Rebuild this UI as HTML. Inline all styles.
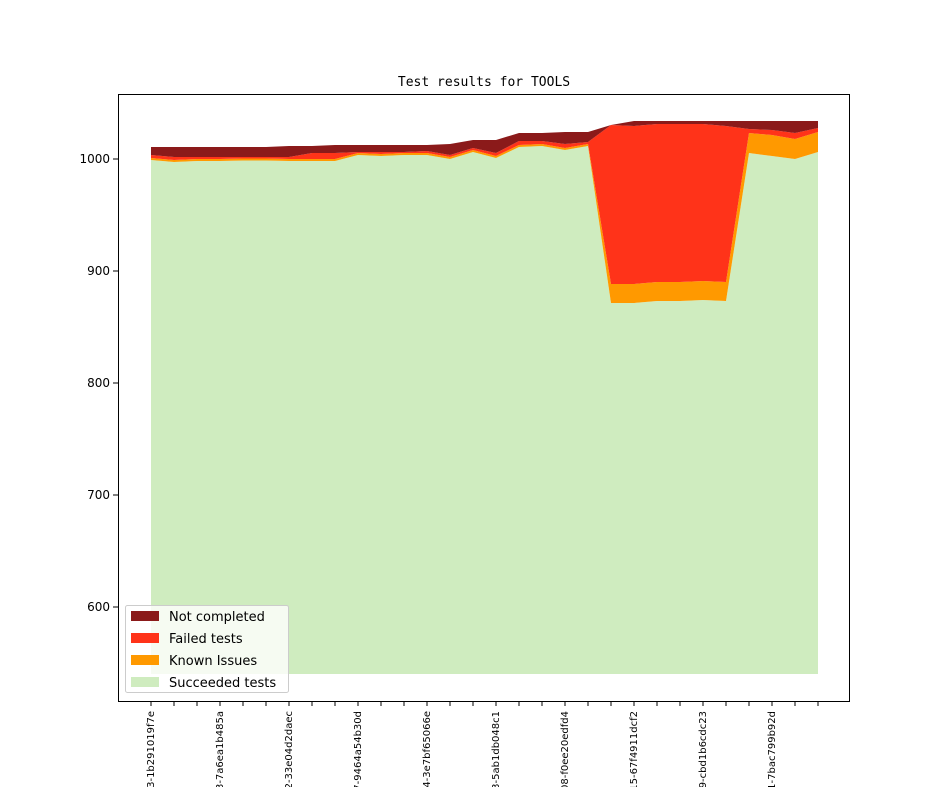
<!DOCTYPE html><html><head><style>html,body{margin:0;background:#fff;width:944px;height:787px;overflow:hidden}svg{display:block;font-family:"DejaVu Sans","Liberation Sans",sans-serif;overflow:hidden}</style></head><body>
<svg width="944" height="787" xmlns="http://www.w3.org/2000/svg">
<defs><clipPath id="c"><rect width="944" height="787"/></clipPath></defs>
<rect width="944" height="787" fill="#fff"/>
<text x="484" y="86" text-anchor="middle" font-family="DejaVu Sans Mono,Liberation Mono,monospace" font-size="13">Test results for TOOLS</text>
<g id="areas"></g>
<rect x="118.5" y="94.5" width="731" height="607" fill="none" stroke="#000"/>
<g font-size="12" text-anchor="end">
<line x1="113" x2="118" y1="159" y2="159" stroke="#000"/><text x="110" y="163">1000</text>
<line x1="113" x2="118" y1="271" y2="271" stroke="#000"/><text x="110" y="275">900</text>
<line x1="113" x2="118" y1="383" y2="383" stroke="#000"/><text x="110" y="387">800</text>
<line x1="113" x2="118" y1="495" y2="495" stroke="#000"/><text x="110" y="499">700</text>
<line x1="113" x2="118" y1="607" y2="607" stroke="#000"/><text x="110" y="611">600</text>
</g>
<g id="xt" font-size="10" clip-path="url(#c)"></g>
<g>
<rect x="125.5" y="605.5" width="163" height="87" fill="#fff" fill-opacity="0.8" stroke="#ccc" rx="2"/>
<rect x="131" y="611" width="28" height="10" fill="#8b1a1a"/><text x="169" y="621" font-size="13">Not completed</text>
<rect x="131" y="633" width="28" height="10" fill="#ff3319"/><text x="169" y="643" font-size="13">Failed tests</text>
<rect x="131" y="655" width="28" height="10" fill="#ff9900"/><text x="169" y="665" font-size="13">Known Issues</text>
<rect x="131" y="677" width="28" height="10" fill="#cfecbf"/><text x="169" y="687" font-size="13">Succeeded tests</text>
</g>
</svg>
<script>
var g=[160,162,161,161,160.5,160.5,161,161,161,155,156,155,155,159,152,158,147,146,150,146,303,303,301,301,300,301,153,156,159,152];
var o=[158,160,159,159,158.5,158.5,159,159,159,153,154,153,153,157,150,156,145,144,148,144,284,284,282,282,281,282,133,135,139,132];
var r=[155,157,157,157,157,157,157,153,153,152,152,152,151,155,148,153,141,141,144,142,125,126,124,124,124,126,129,130,133,128];
var d=[147,147,147,147,147,147,146,146,145,145,145,145,145,144,140,140,133,133,132,132,125,121,121,121,121,121,121,121,121,121];
var X=function(i){return 151+23*i};
function poly(top,bot,c){var p=[];for(var i=0;i<30;i++)p.push(X(i)+','+top[i]);for(var i=29;i>=0;i--)p.push(X(i)+','+(bot?bot[i]:674));return '<polygon points="'+p.join(' ')+'" fill="'+c+'"/>'}
document.getElementById('areas').innerHTML=poly(g,null,'#cfecbf')+poly(o,g,'#ff9900')+poly(r,o,'#ff3319')+poly(d,r,'#8b1a1a');
var L=['3-1b291019f7e','3-7a6ea1b485a','2-33e04d2daec','7-9464a54b30d','4-3e7bf65066e','3-5ab1db048c1','08-f0ee20edfd4','15-67f4911dcf2','9-cbd1b6cdc23','1-7bac799b92d'];
var s='';for(var i=0;i<30;i++){s+='<line x1="'+X(i)+'" x2="'+X(i)+'" y1="701" y2="706" stroke="#000"/>';if(i%3==0)s+='<text transform="translate('+(X(i)+3)+',711) rotate(-90)" text-anchor="end">2024010'+L[i/3]+'</text>';}
document.getElementById('xt').innerHTML=s;
</script>
</body></html>
